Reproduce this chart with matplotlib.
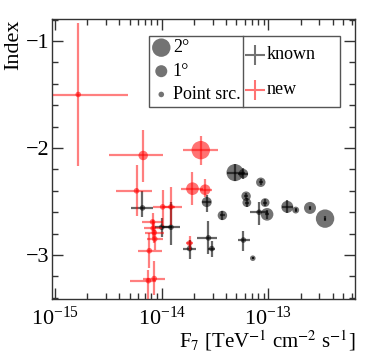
import matplotlib
matplotlib.use('Agg')
import matplotlib.pyplot as plt
from matplotlib.ticker import FixedLocator, LogFormatterMathtext, MultipleLocator, NullFormatter
from matplotlib.patches import Rectangle
import numpy as np

plt.rcParams['font.family'] = ['Liberation Serif', 'DejaVu Serif']
plt.rcParams['mathtext.fontset'] = 'stix'

# new sources: flux, flux range, index, index errors (up, down), extension [deg]
new_flux = [1.65e-15, 6.7e-15, 2.32e-14, 1.94e-14, 2.55e-14, 5.8e-15, 1.02e-14, 1.22e-14,
            8.2e-15, 8.3e-15, 8.5e-15, 8.6e-15, 7.65e-15, 7.5e-15, 8.5e-15, 1.82e-14]
new_flux_lo = [9.6e-16, 3.2e-15, 1.59e-14, 1.52e-14, 2.29e-14, 3.7e-15, 8.3e-15, 1.03e-14,
               6.6e-15, 6.8e-15, 7.0e-15, 7.2e-15, 6.0e-15, 5.05e-15, 6.7e-15, 1.69e-14]
new_flux_hi = [4.8e-15, 1.03e-14, 3.39e-14, 2.45e-14, 2.94e-14, 8.05e-15, 1.33e-14, 1.54e-14,
               1.03e-14, 1.0e-14, 1.05e-14, 1.02e-14, 1.0e-14, 8.85e-15, 1.07e-14, 1.98e-14]
new_index = [-1.50, -2.07, -2.02, -2.38, -2.39, -2.40, -2.55, -2.55,
             -2.69, -2.75, -2.79, -2.85, -2.96, -3.24, -3.22, -2.89]
new_index_up = [0.67, 0.24, 0.13, 0.16, 0.10, 0.24, 0.16, 0.19,
                0.08, 0.08, 0.10, 0.08, 0.17, 0.10, 0.16, 0.07]
new_index_dn = [0.67, 0.25, 0.14, 0.15, 0.07, 0.24, 0.18, 0.17,
                0.08, 0.09, 0.10, 0.10, 0.16, 0.20, 0.15, 0.06]
new_ext = [0, 0.6, 2.0, 1.1, 0.8, 0, 0, 0, 0, 0, 0, 0, 0, 0, 0, 0]

# known sources
known_flux = [6.6e-15, 1.0e-14, 1.22e-14, 4.86e-14, 5.82e-14, 8.47e-14, 2.64e-14, 6.17e-14,
              6.27e-14, 9.3e-14, 3.7e-14, 8.17e-14, 9.7e-14, 2.74e-14, 1.82e-14, 2.94e-14,
              5.82e-14, 7.13e-14, 1.5e-13, 1.8e-13, 2.45e-13, 3.39e-13]
known_flux_lo = [5.15e-15, 8.65e-15, 1.035e-14, 4.06e-14, 5.22e-14, 8.1e-14, 2.4e-14, 5.9e-14,
                 6.0e-14, 8.95e-14, 3.5e-14, 6.73e-14, 9.2e-14, 2.16e-14, 1.59e-14, 2.73e-14,
                 5.22e-14, 7.0e-14, 1.33e-13, 1.76e-13, 2.38e-13, 3.32e-13]
known_flux_hi = [8.3e-15, 1.24e-14, 1.49e-14, 6.04e-14, 6.49e-14, 8.9e-14, 2.9e-14, 6.45e-14,
                 6.55e-14, 9.65e-14, 3.9e-14, 9.98e-14, 1.02e-13, 3.32e-14, 2.09e-14, 3.16e-14,
                 6.73e-14, 7.25e-14, 1.71e-13, 1.84e-13, 2.52e-13, 3.46e-13]
known_index = [-2.56, -2.74, -2.74, -2.23, -2.24, -2.32, -2.505, -2.45,
               -2.51, -2.51, -2.63, -2.60, -2.62, -2.84, -2.94, -2.94,
               -2.86, -3.03, -2.55, -2.58, -2.56, -2.66]
known_index_up = [0.155, 0.09, 0.24, 0.08, 0.05, 0.03, 0.07, 0.03,
                  0.04, 0.03, 0.04, 0.10, 0.04, 0.16, 0.08, 0.07,
                  0.085, 0.01, 0.06, 0.015, 0.02, 0.02]
known_index_dn = [0.085, 0.09, 0.17, 0.08, 0.05, 0.03, 0.09, 0.03,
                  0.04, 0.03, 0.04, 0.12, 0.04, 0.15, 0.10, 0.08,
                  0.10, 0.01, 0.06, 0.015, 0.02, 0.02]
known_ext = [0, 0, 0, 1.8, 0.6, 0.6, 0.7, 0.6, 0.5, 0.5, 0.6, 0, 1.1, 0, 0, 0,
             0, 0, 1.0, 0.2, 1.0, 2.0]

legend_ext = [2, 1, 0]
legend_ext_labels = ['2°', '1°', 'Point src.']

x_major = [1e-15, 1e-14, 1e-13]
DPI = 100


def marker_area(ext):
    # circle radius in px grows with the extension
    r = 2.8 + 3.2 * np.asarray(ext, dtype=float)
    return (2 * r * 72 / DPI) ** 2


fig = plt.figure(figsize=(3.74, 3.57), dpi=DPI)
ax = fig.add_axes([0.140, 0.1616, 0.809, 0.785])


def draw(flux, lo, hi, idx, up, dn, ext, color, ealpha):
    flux = np.array(flux)
    xerr = [flux - np.array(lo), np.array(hi) - flux]
    ax.errorbar(flux, idx, xerr=xerr, yerr=[dn, up], fmt='none', ecolor=color,
                alpha=ealpha, elinewidth=1.6, capsize=0, zorder=3)
    ax.scatter(flux, idx, s=marker_area(ext), color=color, alpha=0.55,
               edgecolors='none', zorder=2)


draw(known_flux, known_flux_lo, known_flux_hi, known_index, known_index_up,
     known_index_dn, known_ext, 'black', 0.6)
draw(new_flux, new_flux_lo, new_flux_hi, new_index, new_index_up,
     new_index_dn, new_ext, 'red', 0.5)

ax.set_xscale('log')
ax.set_xlim(10 ** -15.025, 10 ** -12.19)
ax.set_ylim(-3.414, -0.795)

ax.xaxis.set_major_locator(FixedLocator(x_major))
ax.xaxis.set_major_formatter(LogFormatterMathtext())
minors = [m * d for d in [1e-15, 1e-14, 1e-13] for m in range(2, 10)
          if m * d < 10 ** -12.19]
ax.xaxis.set_minor_locator(FixedLocator(minors))
ax.xaxis.set_minor_formatter(NullFormatter())
ax.yaxis.set_major_locator(MultipleLocator(1))
ax.yaxis.set_minor_locator(MultipleLocator(0.2))

ax.tick_params(which='both', direction='in', top=True, right=True, width=1, colors='#333333',
               labelcolor='black')
ax.tick_params(which='major', length=8, labelsize=16)
ax.tick_params(which='minor', length=4)
ax.tick_params(axis='x', pad=5)
ax.tick_params(axis='y', pad=2)
for sp in ax.spines.values():
    sp.set_color('#333333')
    sp.set_linewidth(1)

ax.set_ylabel('Index', fontsize=16, loc='top', labelpad=2)
ax.set_xlabel('F$_7$ [TeV$^{-1}$ cm$^{-2}$ s$^{-1}$]', fontsize=15,
              loc='right', labelpad=-1)

# legend box drawn by hand, two panels
ax.add_patch(Rectangle((0.320, 0.687), 0.630, 0.253, transform=ax.transAxes,
                       facecolor='white', edgecolor='#555555', lw=1, zorder=5))
ax.plot([0.631, 0.631], [0.687, 0.940], transform=ax.transAxes, color='#555555', lw=1, zorder=6)
for e, lab, yy in zip(legend_ext, legend_ext_labels, [0.898, 0.814, 0.731]):
    ax.scatter([0.360], [yy], s=marker_area(e), color='black', alpha=0.55,
               edgecolors='none', transform=ax.transAxes, zorder=6)
    ax.text(0.398, yy, lab, transform=ax.transAxes, fontsize=13, va='center', zorder=7)
for c, lab, yy in zip(['black', 'red'], ['known', 'new'], [0.872, 0.747]):
    ax.plot([0.670], [yy], marker='+', markersize=15, mew=1.5, color=c, alpha=0.55,
            transform=ax.transAxes, zorder=6)
    ax.text(0.708, yy, lab, transform=ax.transAxes, fontsize=13, va='center', zorder=7)

fig.savefig('out.png', dpi=DPI)
